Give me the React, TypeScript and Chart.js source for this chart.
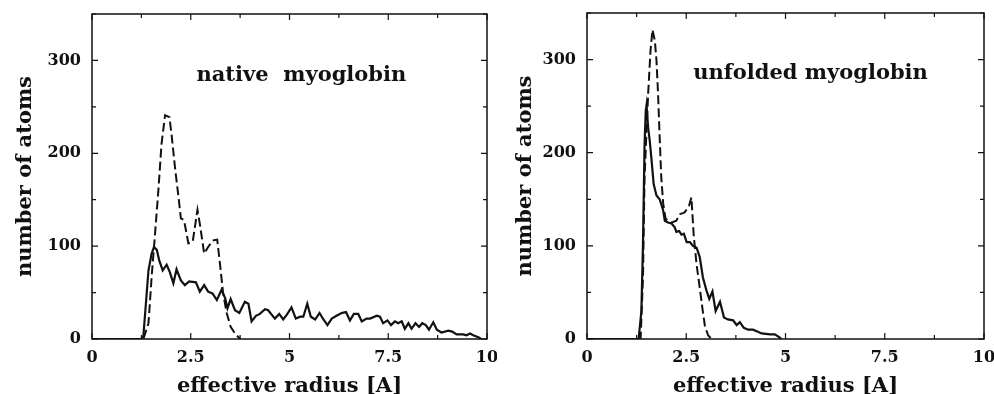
import React, { useEffect, useRef } from "react";
import { Chart, registerables } from "chart.js";
Chart.register(...registerables);

// ---------- data ----------
const nativeSolidR = [0, 1.26, 1.3, 1.43, 1.51, 1.57, 1.64, 1.7, 1.79, 1.89, 1.97, 2.06, 2.14, 2.25, 2.35, 2.46, 2.63, 2.73, 2.84, 2.94, 3.05, 3.16, 3.28, 3.37, 3.43, 3.51, 3.62, 3.73, 3.87, 3.96, 4.04, 4.15, 4.25, 4.38, 4.46, 4.63, 4.74, 4.84, 4.93, 5.05, 5.16, 5.27, 5.35, 5.45, 5.54, 5.65, 5.76, 5.86, 5.96, 6.07, 6.19, 6.32, 6.43, 6.53, 6.63, 6.74, 6.83, 6.95, 7.04, 7.21, 7.29, 7.37, 7.48, 7.57, 7.67, 7.75, 7.84, 7.92, 8.01, 8.09, 8.19, 8.28, 8.36, 8.45, 8.53, 8.64, 8.73, 8.85, 9.02, 9.12, 9.23, 9.4, 9.48, 9.57, 9.65, 9.78, 9.85];
const nativeSolidN = [0, 0, 3, 74, 92, 99, 96, 85, 74, 80, 72, 60, 75, 63, 58, 62, 61, 51, 58, 51, 49, 42, 53, 44, 33, 43, 31, 28, 40, 38, 19, 25, 27, 32, 31, 22, 27, 21, 26, 34, 22, 24, 24, 38, 24, 21, 28, 21, 15, 22, 25, 28, 29, 20, 27, 27, 19, 22, 22, 25, 24, 17, 20, 15, 19, 17, 19, 11, 17, 11, 17, 13, 17, 15, 10, 18, 10, 7, 9, 8, 5, 5, 4, 6, 4, 2, 0];

const nativeDashR = [0, 1.3, 1.43, 1.51, 1.59, 1.68, 1.76, 1.85, 1.96, 2.02, 2.1, 2.19, 2.25, 2.33, 2.44, 2.55, 2.67, 2.73, 2.84, 2.94, 3.05, 3.17, 3.24, 3.32, 3.41, 3.51, 3.62, 3.75];
const nativeDashN = [0, 0, 17, 67, 110, 160, 210, 241, 239, 218, 185, 153, 130, 128, 103, 105, 139, 124, 92, 99, 106, 107, 81, 49, 28, 13, 6, 0];

const unfoldedSolidR = [0, 1.3, 1.37, 1.41, 1.45, 1.48, 1.5, 1.54, 1.58, 1.62, 1.68, 1.75, 1.83, 1.92, 1.96, 2.04, 2.13, 2.21, 2.25, 2.32, 2.38, 2.44, 2.51, 2.59, 2.67, 2.76, 2.84, 2.92, 3.01, 3.08, 3.16, 3.24, 3.35, 3.45, 3.55, 3.68, 3.77, 3.85, 3.95, 4.06, 4.18, 4.29, 4.4, 4.61, 4.73, 4.84, 4.9];
const unfoldedSolidN = [0, 0, 30, 102, 209, 245, 251, 227, 213, 195, 166, 154, 150, 138, 127, 125, 124, 120, 115, 116, 112, 113, 104, 104, 100, 98, 88, 66, 52, 43, 51, 30, 40, 23, 21, 20, 15, 18, 12, 10, 10, 8, 6, 5, 5, 2, 0];

const unfoldedDashR = [0, 1.35, 1.41, 1.45, 1.5, 1.54, 1.6, 1.65, 1.71, 1.75, 1.79, 1.83, 1.87, 1.92, 1.98, 2.13, 2.25, 2.34, 2.46, 2.57, 2.63, 2.69, 2.76, 2.84, 2.91, 2.97, 3.05, 3.14];
const unfoldedDashN = [0, 0, 66, 174, 224, 263, 310, 332, 320, 299, 263, 217, 174, 145, 129, 125, 127, 134, 136, 143, 152, 110, 80, 55, 32, 14, 4, 0];

const xTickLabels = ["0", "2.5", "5", "7.5", "10"];
const yTickLabels = ["0", "100", "200", "300"];
const xAxisTitle = "effective radius [A]";
const yAxisTitle = "number of atoms";
const panelTitles = ["native  myoglobin", "unfolded myoglobin"];

// ---------- styling ----------
const INK = "#111";
const FONT = '"DejaVu Serif", serif';

const toPts = (xs: number[], ys: number[]) => xs.map((x, i) => ({ x, y: ys[i] }));

const framePlugin = {
  id: "frame",
  afterDatasetsDraw(chart: any, _args: any, opts: any) {
    const { ctx, chartArea } = chart;
    const { left, right, top, bottom } = chartArea;
    const xs = chart.scales.x;
    const ys = chart.scales.y;
    ctx.save();
    ctx.strokeStyle = INK;
    ctx.lineWidth = 1.5;
    ctx.strokeRect(left, top, right - left, bottom - top);
    ctx.lineWidth = 1.2;
    ctx.beginPath();
    xs.ticks.forEach((t: any) => {
      const px = xs.getPixelForValue(t.value);
      const len = t.label ? 6 : 4;
      ctx.moveTo(px, bottom);
      ctx.lineTo(px, bottom - len);
      ctx.moveTo(px, top);
      ctx.lineTo(px, top + len);
    });
    ys.ticks.forEach((t: any) => {
      const py = ys.getPixelForValue(t.value);
      const len = t.label ? 6 : 4;
      ctx.moveTo(left, py);
      ctx.lineTo(left + len, py);
      ctx.moveTo(right, py);
      ctx.lineTo(right - len, py);
    });
    ctx.stroke();
    if (opts && opts.text) {
      ctx.fillStyle = INK;
      ctx.font = `bold 21px ${FONT}`;
      ctx.textAlign = "center";
      ctx.textBaseline = "alphabetic";
      ctx.fillText(opts.text, xs.getPixelForValue(opts.tx), ys.getPixelForValue(opts.ty));
    }
    ctx.restore();
  },
};

function makeConfig(
  solid: { x: number; y: number }[],
  dashed: { x: number; y: number }[],
  title: string,
  tx: number,
  ty: number,
  padTop: number,
  padRight: number,
  yWidth: number
): any {
  return {
    type: "line",
    data: {
      datasets: [
        {
          data: dashed,
          borderColor: INK,
          borderWidth: 2,
          borderDash: [9, 4],
          pointRadius: 0,
          fill: false,
          tension: 0,
        },
        {
          data: solid,
          borderColor: INK,
          borderWidth: 2.2,
          pointRadius: 0,
          fill: false,
          tension: 0,
        },
      ],
    },
    options: {
      animation: false,
      responsive: false,
      layout: { padding: { top: padTop, right: padRight, left: 0, bottom: 0 } },
      plugins: {
        legend: { display: false },
        tooltip: { enabled: false },
        frame: { text: title, tx, ty },
      },
      scales: {
        x: {
          type: "linear",
          min: 0,
          max: 10,
          grid: { display: false, drawTicks: false },
          border: { display: false },
          ticks: {
            stepSize: 1.25,
            autoSkip: false,
            maxRotation: 0,
            padding: 9,
            color: INK,
            font: { family: FONT, size: 16, weight: "bold" },
            callback: (v: number) => {
              const s = String(v);
              return xTickLabels.includes(s) ? s : "";
            },
          },
          title: {
            display: true,
            text: xAxisTitle,
            color: INK,
            font: { family: FONT, size: 21, weight: "bold", lineHeight: 1 },
            padding: { top: 0, bottom: -3 },
          },
          afterFit: (s: any) => {
            s.height = 55;
            s.paddingLeft = 0;
            s.paddingRight = 0;
          },
        },
        y: {
          type: "linear",
          min: 0,
          max: 350,
          grid: { display: false, drawTicks: false },
          border: { display: false },
          ticks: {
            stepSize: 50,
            autoSkip: false,
            padding: 11,
            color: INK,
            font: { family: FONT, size: 16, weight: "bold" },
            callback: (v: number) => {
              const s = String(v);
              return yTickLabels.includes(s) ? s : "";
            },
          },
          title: {
            display: true,
            text: yAxisTitle,
            color: INK,
            font: { family: FONT, size: 21, weight: "bold", lineHeight: 1 },
            padding: { top: 15, bottom: 0 },
          },
          afterFit: (s: any) => {
            s.width = yWidth;
            s.paddingTop = 0;
            s.paddingBottom = 0;
          },
        },
      },
    },
    plugins: [framePlugin],
  };
}

function Panel(props: { cfg: any; left: number; width: number }) {
  const ref = useRef<HTMLCanvasElement | null>(null);
  useEffect(() => {
    if (!ref.current) return;
    const chart = new Chart(ref.current, props.cfg);
    return () => chart.destroy();
  }, []);
  return (
    <canvas
      ref={ref}
      width={props.width}
      height={394}
      style={{ position: "absolute", left: props.left, top: 0, width: props.width, height: 394 }}
    />
  );
}

export default function App() {
  const leftCfg = makeConfig(
    toPts(nativeSolidR, nativeSolidN),
    toPts(nativeDashR, nativeDashN),
    panelTitles[0],
    5.3,
    278,
    14,
    10,
    92
  );
  const rightCfg = makeConfig(
    toPts(unfoldedSolidR, unfoldedSolidN),
    toPts(unfoldedDashR, unfoldedDashN),
    panelTitles[1],
    5.63,
    279,
    13,
    10,
    87
  );
  return (
    <div
      style={{
        position: "fixed",
        left: 0,
        top: 0,
        width: 994,
        height: 394,
        overflow: "hidden",
        background: "#fff",
      }}
    >
      <Panel cfg={leftCfg} left={0} width={497} />
      <Panel cfg={rightCfg} left={500} width={494} />
    </div>
  );
}
